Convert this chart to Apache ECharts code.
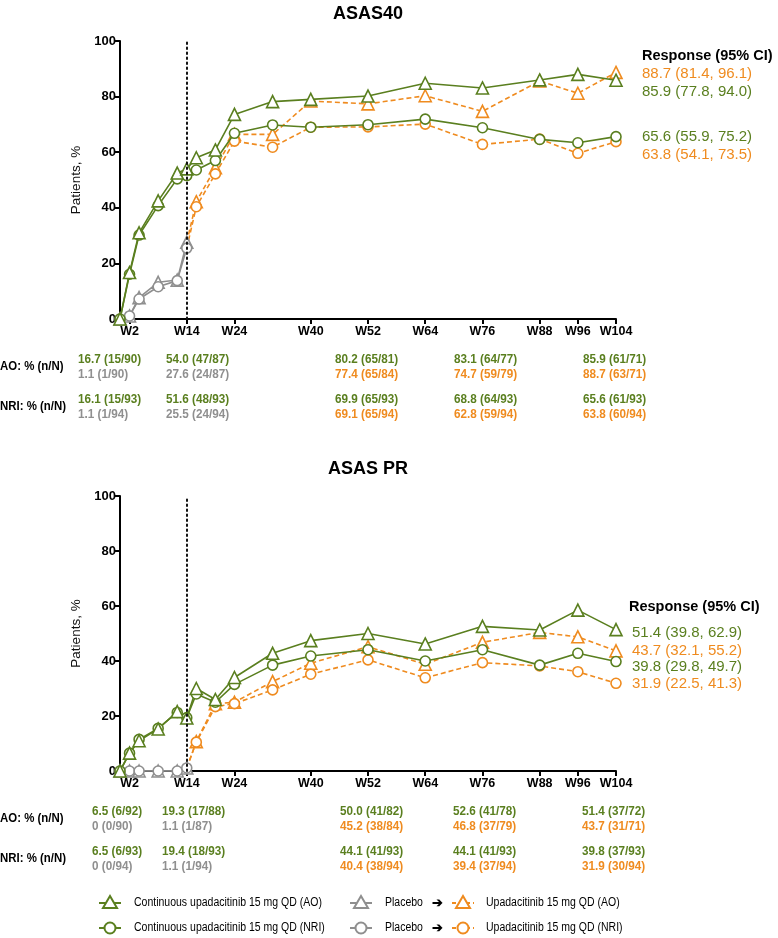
<!DOCTYPE html>
<html><head><meta charset="utf-8">
<script src="https://cdn.jsdelivr.net/npm/echarts@6/dist/echarts.min.js"></script>
<style>html,body{margin:0;padding:0;background:#fff}#c{width:778px;height:938px}</style>
</head><body><div id="c"></div>
<script>
// ---------- DATA ----------
const weeksCont = [0,2,4,8,12,14,16,20,24,32,40,52,64,76,88,96,104];
const weeksPbo = [0,2,4,8,12,14];
const weeksSwitch = [14,16,20,24,32,40,52,64,76,88,96,104];
const xTicks = [2,14,24,40,52,64,76,88,96,104];

// ASAS40
const contAO40  = [0,16.7,31.0,42.5,52.5,54.0,58.0,60.8,73.6,78.2,79.0,80.2,84.8,83.1,86.0,88.0,85.9];
const contNRI40 = [0,16.1,30.2,40.8,50.4,51.6,53.6,57.0,66.8,69.8,69.0,69.9,71.9,68.8,64.6,63.4,65.6];
const pboAO40   = [0,1.1,7.7,13.2,14.0,27.6];
const pboNRI40  = [0,1.1,7.2,11.6,13.8,25.5];
const swAO40    = [27.6,42.2,54.4,66.4,66.4,78.4,77.4,80.3,74.7,85.6,81.2,88.7];
const swNRI40   = [25.5,40.4,52.2,64.0,61.8,69.0,69.1,70.1,62.8,64.7,59.6,63.8];

// ASAS PR
const contAOpr  = [0,6.5,11.0,15.3,21.6,19.3,30.0,26.0,34.0,42.8,47.4,50.0,46.2,52.6,51.3,58.5,51.4];
const contNRIpr = [0,6.5,11.5,15.5,21.3,19.4,28.0,25.0,31.5,38.5,41.8,44.1,40.0,44.1,38.5,42.8,39.8];
const pboAOpr   = [0,0,0,0,0,1.1];
const pboNRIpr  = [0,0,0,0,0,1.1];
const swAOpr    = [1.1,10.7,24.5,25.0,32.5,39.2,45.2,38.8,46.8,50.4,48.8,43.7];
const swNRIpr   = [1.1,10.5,23.4,24.5,29.5,35.2,40.4,33.9,39.4,38.2,36.1,31.9];

// Right-side response labels
const ciTop = ['88.7 (81.4, 96.1)','85.9 (77.8, 94.0)','65.6 (55.9, 75.2)','63.8 (54.1, 73.5)'];
const ciBot = ['51.4 (39.8, 62.9)','43.7 (32.1, 55.2)','39.8 (29.8, 49.7)','31.9 (22.5, 41.3)'];

// Tables
const topAOcont  = ['16.7 (15/90)','54.0 (47/87)','80.2 (65/81)','83.1 (64/77)','85.9 (61/71)'];
const topAOsw    = ['1.1 (1/90)','27.6 (24/87)','77.4 (65/84)','74.7 (59/79)','88.7 (63/71)'];
const topNRIcont = ['16.1 (15/93)','51.6 (48/93)','69.9 (65/93)','68.8 (64/93)','65.6 (61/93)'];
const topNRIsw   = ['1.1 (1/94)','25.5 (24/94)','69.1 (65/94)','62.8 (59/94)','63.8 (60/94)'];
const botAOcont  = ['6.5 (6/92)','19.3 (17/88)','50.0 (41/82)','52.6 (41/78)','51.4 (37/72)'];
const botAOsw    = ['0 (0/90)','1.1 (1/87)','45.2 (38/84)','46.8 (37/79)','43.7 (31/71)'];
const botNRIcont = ['6.5 (6/93)','19.4 (18/93)','44.1 (41/93)','44.1 (41/93)','39.8 (37/93)'];
const botNRIsw   = ['0 (0/94)','1.1 (1/94)','40.4 (38/94)','39.4 (37/94)','31.9 (30/94)'];

// ---------- STYLE ----------
const GREEN = '#5a7f1f', ORANGE = '#ef8b1f', GRAY = '#8f8f8f';
const FONT = '"Liberation Sans", Arial, sans-serif';

const chart = echarts.init(document.getElementById('c'), null, {renderer:'canvas'});

function pairs(w, v){ return w.map((x,i)=>[x, v[i]]); }

function mkSeries(idx, name, weeks, vals, color, sym, dashed, hideFirst){
  const data = pairs(weeks, vals).map((p,i)=> (hideFirst && i===0) ? {value:p, symbol:'none'} : p);
  return {
    type:'line', name, xAxisIndex:idx, yAxisIndex:idx, data,
    symbol: sym, symbolSize: sym==='triangle' ? 12 : 10,
    lineStyle:{color, width:1.6, type: dashed ? [5,3] : 'solid'},
    itemStyle:{color:'#fff', borderColor:color, borderWidth:1.6},
    z: dashed ? 3 : 4, silent:true, animation:false
  };
}

function xAxis(idx){
  return {
    gridIndex:idx, type:'value', min:0, max:104,
    axisLine:{show:true, onZero:false, lineStyle:{color:'#000', width:2}},
    axisTick:{show:true, customValues:xTicks, length:5, lineStyle:{color:'#000', width:2}},
    axisLabel:{customValues:xTicks, formatter:v=>'W'+v, color:'#000', fontWeight:'bold', fontSize:12.5, fontFamily:FONT, margin:6},
    splitLine:{show:false}
  };
}
function yAxis(idx){
  return {
    gridIndex:idx, type:'value', min:0, max:100, interval:20,
    name:'Patients, %', nameLocation:'middle', nameGap:36,
    nameTextStyle:{color:'#111', fontSize:13.5, fontFamily:FONT},
    axisLine:{show:true, lineStyle:{color:'#000', width:2}},
    axisTick:{show:true, length:5, lineStyle:{color:'#000', width:2}},
    axisLabel:{color:'#000', fontWeight:'bold', fontSize:13, fontFamily:FONT, margin:4},
    splitLine:{show:false}
  };
}

const series = [
  mkSeries(0,'pboAO40',weeksPbo,pboAO40,GRAY,'triangle',false),
  mkSeries(0,'pboNRI40',weeksPbo,pboNRI40,GRAY,'circle',false),
  mkSeries(0,'swAO40',weeksSwitch,swAO40,ORANGE,'triangle',true,true),
  mkSeries(0,'swNRI40',weeksSwitch,swNRI40,ORANGE,'circle',true,true),
  mkSeries(0,'contNRI40',weeksCont,contNRI40,GREEN,'circle',false),
  mkSeries(0,'contAO40',weeksCont,contAO40,GREEN,'triangle',false),
  mkSeries(1,'pboAOpr',weeksPbo,pboAOpr,GRAY,'triangle',false),
  mkSeries(1,'pboNRIpr',weeksPbo,pboNRIpr,GRAY,'circle',false),
  mkSeries(1,'swAOpr',weeksSwitch,swAOpr,ORANGE,'triangle',true,true),
  mkSeries(1,'swNRIpr',weeksSwitch,swNRIpr,ORANGE,'circle',true,true),
  mkSeries(1,'contNRIpr',weeksCont,contNRIpr,GREEN,'circle',false),
  mkSeries(1,'contAOpr',weeksCont,contAOpr,GREEN,'triangle',false)
];
// dotted vertical line at W14
[0,6].forEach(i=>{
  series[i].markLine = {silent:true, symbol:'none', label:{show:false},
    lineStyle:{color:'#111', width:2, type:[1.5,3.5], cap:'round'}, data:[{xAxis:14}], animation:false};
});

// ---------- GRAPHIC TEXT ----------
const g = [];
function txt(x,y,text,opt){
  opt = opt||{};
  g.push({type:'text', x, y, scaleX:opt.sx||1, silent:true, style:{text, fill:opt.color||'#000',
    font:(opt.weight||'normal')+' '+(opt.size||12)+'px '+FONT,
    align:opt.align||'left', verticalAlign:'middle', textAlign:opt.align||'left', textVerticalAlign:'middle'}});
}
// titles
txt(368,14,'ASAS40',{weight:'bold',size:18,align:'center'});
txt(368,469,'ASAS PR',{weight:'bold',size:18,align:'center'});
// response labels
txt(642,56,'Response (95% CI)',{weight:'bold',size:14.5});
[[ORANGE,74],[GREEN,92],[GREEN,137],[ORANGE,155]].forEach((c,i)=>txt(642,c[1],ciTop[i],{color:c[0],size:15}));
txt(629,607,'Response (95% CI)',{weight:'bold',size:14.5});
[[GREEN,633],[ORANGE,651],[GREEN,667],[ORANGE,684]].forEach((c,i)=>txt(632,c[1],ciBot[i],{color:c[0],size:15}));

// tables
function table(cols, yBase, aoC, aoS, nriC, nriS){
  const secCol = [GRAY,GRAY,ORANGE,ORANGE,ORANGE];
  const ys = [yBase, yBase+15, yBase+40, yBase+55];
  txt(0,(ys[0]+ys[1])/2,'AO: % (n/N)',{weight:'bold',size:13,sx:0.88});
  txt(0,(ys[2]+ys[3])/2,'NRI: % (n/N)',{weight:'bold',size:13,sx:0.88});
  cols.forEach((x,i)=>{
    txt(x,ys[0],aoC[i],{weight:'bold',size:13,sx:0.9,color:GREEN});
    txt(x,ys[1],aoS[i],{weight:'bold',size:13,sx:0.9,color:secCol[i]});
    txt(x,ys[2],nriC[i],{weight:'bold',size:13,sx:0.9,color:GREEN});
    txt(x,ys[3],nriS[i],{weight:'bold',size:13,sx:0.9,color:secCol[i]});
  });
}
table([78,166,335,454,583],359,topAOcont,topAOsw,topNRIcont,topNRIsw);
table([92,162,340,453,582],811,botAOcont,botAOsw,botNRIcont,botNRIsw);

// legend
function legSym(cx,cy,color,sym,dashed){
  g.push({type:'line', silent:true, shape:{x1:cx-11,y1:cy,x2:cx+11,y2:cy},
    style:{stroke:color, lineWidth:2, lineDash: dashed?[4,3]:null}});
  if(sym==='triangle'){
    g.push({type:'polygon', silent:true, shape:{points:[[cx,cy-7],[cx+7,cy+5],[cx-7,cy+5]]},
      style:{fill:'#fff', stroke:color, lineWidth:2}});
  } else {
    g.push({type:'circle', silent:true, shape:{cx,cy,r:5.5}, style:{fill:'#fff', stroke:color, lineWidth:2}});
  }
}
[[903,'triangle','AO'],[928,'circle','NRI']].forEach(r=>{
  const y=r[0];
  legSym(110,y,GREEN,r[1],false);
  txt(134,y,'Continuous upadacitinib 15 mg QD ('+r[2]+')',{size:12.5,sx:0.84});
  legSym(361,y,GRAY,r[1],false);
  txt(385,y,'Placebo',{size:12.5,sx:0.84});
  txt(432,y,'➔',{size:13,weight:'bold'});
  legSym(463,y,ORANGE,r[1],true);
  txt(486,y,'Upadacitinib 15 mg QD ('+r[2]+')',{size:12.5,sx:0.84});
});

chart.setOption({
  animation:false,
  backgroundColor:'#fff',
  grid:[
    {left:120, right:162, top:41, height:278},
    {left:120, right:162, top:496, height:275}
  ],
  xAxis:[xAxis(0), xAxis(1)],
  yAxis:[yAxis(0), yAxis(1)],
  series,
  graphic:g
});
</script></body></html>
